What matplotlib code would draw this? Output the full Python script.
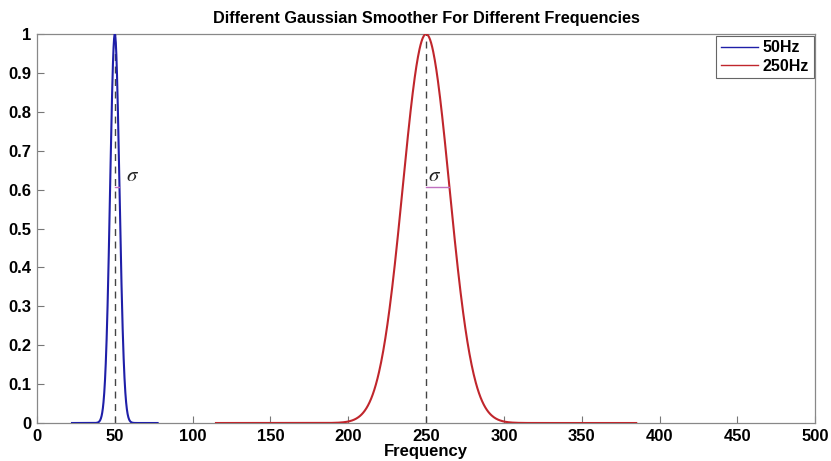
import numpy as np
import matplotlib
matplotlib.use('Agg')
import matplotlib.pyplot as plt

# gaussian smoothers: centre, sigma, half-width of the drawn support
centers = [50, 250]
sigmas = [3, 15]
half_widths = [27.5, 135]
labels = ['50Hz', '250Hz']
colors = ['#1f1fa8', '#c0262c']
xticks = [0, 50, 100, 150, 200, 250, 300, 350, 400, 450, 500]
yticks = [0, 0.1, 0.2, 0.3, 0.4, 0.5, 0.6, 0.7, 0.8, 0.9, 1]

plt.rcParams['font.family'] = ['Liberation Sans', 'DejaVu Sans']
plt.rcParams['mathtext.fontset'] = 'stix'

fig = plt.figure(figsize=(8.31, 4.61), dpi=100)
ax = fig.add_axes([0.0445, 0.0824, 0.9365, 0.8438])

for mu, sd, hw, lab, c in zip(centers, sigmas, half_widths, labels, colors):
    x = np.linspace(mu - hw, mu + hw, 800)
    y = np.exp(-0.5 * ((x - mu) / sd) ** 2)
    ax.plot(x, y, color=c, lw=1.5, label=lab, zorder=3)
    ax.plot([mu, mu], [0, 1], color='#444444', lw=1.0, ls=(0, (5, 4)), zorder=2)
    h = np.exp(-0.5)
    ax.plot([mu, mu + sd], [h, h], color='#c070c0', lw=1.0, zorder=4)
    ax.text(mu + (sd + 4 if sd < 5 else 1.5), h + 0.005, r'$\sigma$', fontsize=15,
            ha='left', va='bottom', color='#222222')

ax.set_xlim(0, 500)
ax.set_ylim(0, 1)
ax.set_xticks(xticks)
ax.set_xticklabels([str(v) for v in xticks], fontweight='bold')
ax.set_yticks(yticks)
ax.set_yticklabels([('%g' % v) for v in yticks], fontweight='bold')
ax.tick_params(direction='in', length=5, width=0.8, color='#777777', labelsize=12,
               pad=4, top=False, right=False)
for s in ax.spines.values():
    s.set_color('#888888')
    s.set_linewidth(0.9)

ax.set_xlabel('Frequency', fontsize=12, fontweight='bold', labelpad=0)
ax.set_title('Different Gaussian Smoother For Different Frequencies', fontsize=11.7,
             fontweight='bold', pad=8)

leg = ax.legend(loc='upper right', fontsize=11.5, handlelength=2.3, handletextpad=0.3,
                borderaxespad=0.1, borderpad=0.3, labelspacing=0.2, fancybox=False,
                framealpha=1)
leg.get_frame().set_edgecolor('#666666')
leg.get_frame().set_linewidth(0.8)
for t in leg.get_texts():
    t.set_fontweight('bold')
for l in leg.get_lines():
    l.set_linewidth(1.0)

fig.savefig('out.png', dpi=100)
